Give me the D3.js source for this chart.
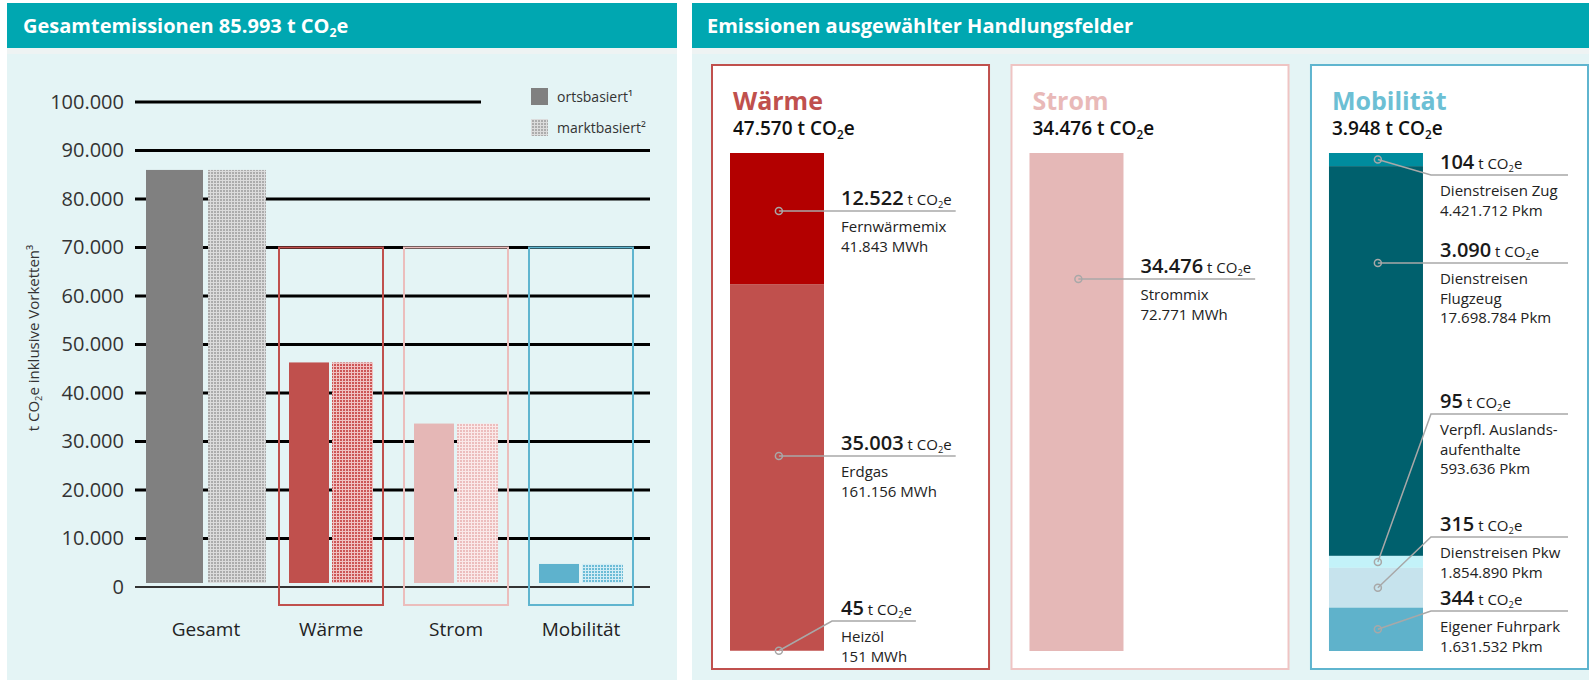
<!DOCTYPE html>
<html>
<head>
<meta charset="utf-8">
<script src="https://cdn.jsdelivr.net/npm/d3@7"></script>
<style>
body { margin: 0; background: #fff; }
svg { display: block; font-family: "Open Sans", sans-serif; }
</style>
</head>
<body>
<script>
// ---- left chart: Gesamtemissionen ----
var categories = ["Gesamt", "Wärme", "Strom", "Mobilität"];
var ortsbasiert = [85993, 46300, 33700, 4750];
var marktbasiert = [85993, 46300, 33700, 4750];
var yTicks = [0, 10000, 20000, 30000, 40000, 50000, 60000, 70000, 80000, 90000, 100000];
var gesamtTotal = 85993;
var boxTop = 70000;

// ---- right panel: Handlungsfelder ----
var fieldNames = ["Wärme", "Strom", "Mobilität"];
var fieldTotals = [47570, 34476, 3948];

var waermeNames = [["Fernwärmemix"], ["Erdgas"], ["Heizöl"]];
var waermeValues = [12522, 35003, 45];
var waermeUsage = ["41.843 MWh", "161.156 MWh", "151 MWh"];

var stromNames = [["Strommix"]];
var stromValues = [34476];
var stromUsage = ["72.771 MWh"];

var mobNames = [["Dienstreisen Zug"], ["Dienstreisen", "Flugzeug"], ["Verpfl. Auslands-", "aufenthalte"], ["Dienstreisen Pkw"], ["Eigener Fuhrpark"]];
var mobValues = [104, 3090, 95, 315, 344];
var mobUsage = ["4.421.712 Pkm", "17.698.784 Pkm", "593.636 Pkm", "1.854.890 Pkm", "1.631.532 Pkm"];

// colours + layout
var teal = "#00a7b1", panelBg = "#e4f4f5";
var ortsColors = ["#808080", "#c0504d", "#e5b7b6", "#5eb2cd"];
var hatchColors = [["#acacac", "#dcdcdc"], ["#cc5656", "#f0c2c2"], ["#ecbdbd", "#fae9e9"], ["#6cbcd6", "#d3edf5"]];
var boxColors = [null, "#c0504d", "#ebbdbc", "#5fb5cf"];
var titleColors = ["#c0504d", "#e9b9b8", "#6cbfd4"];
var segColors = [["#b30000", "#c0504d", "#c0504d"], ["#e5b8b7"], ["#008c9e", "#00606d", "#c3f2f9", "#c6e3ed", "#5fb2cb"]];
var annotY = [[211, 456, 621], [279], [175, 263, 414, 537, 611]];

var fmt = d3.formatLocale({decimal: ",", thousands: ".", grouping: [3], currency: ["", "€"]}).format(",");

var svg = d3.select("body").append("svg")
    .attr("width", 1589)
    .attr("height", 680);

var defs = svg.append("defs");
function hatch(id, cell, line) {
    var p = defs.append("pattern").attr("id", id)
        .attr("width", 3).attr("height", 3)
        .attr("patternUnits", "userSpaceOnUse");
    p.append("rect").attr("width", 3).attr("height", 3).attr("fill", line);
    p.append("rect").attr("x", 1).attr("y", 1).attr("width", 2).attr("height", 2).attr("fill", cell);
}
hatchColors.forEach(function(c, i) { hatch("hatch" + i, c[0], c[1]); });

// CO2e with subscript 2
function co2(text, pre, fs, post) {
    text.append("tspan").attr("font-size", fs).text(pre + "CO");
    text.append("tspan").attr("font-size", fs * 0.62).attr("dy", fs * 0.22).text("2");
    text.append("tspan").attr("font-size", fs).attr("dy", -fs * 0.22).text("e" + (post || ""));
}

// panels
function panel(x, w) {
    svg.append("rect").attr("x", x).attr("y", 3).attr("width", w).attr("height", 45).attr("fill", teal);
    svg.append("rect").attr("x", x).attr("y", 48).attr("width", w).attr("height", 6).attr("fill", "#eef3f3");
    svg.append("rect").attr("x", x).attr("y", 54).attr("width", w).attr("height", 626).attr("fill", panelBg);
}
panel(7, 670);
panel(692, 897);

var t1 = svg.append("text").attr("x", 23).attr("y", 33)
    .attr("fill", "#fff").attr("font-weight", 700);
co2(t1, "Gesamtemissionen " + fmt(gesamtTotal) + " t ", 20);

svg.append("text").attr("x", 707).attr("y", 33)
    .attr("fill", "#fff").attr("font-weight", 700).attr("font-size", 20)
    .text("Emissionen ausgewählter Handlungsfelder");

// ================= LEFT CHART =================
var y = d3.scaleLinear().domain([0, 100000]).range([587, 102]);
var x = d3.scaleBand().domain(categories).range([143.5, 643.5]);

var g = svg.append("g");

// gridlines
g.selectAll(".grid")
    .data(yTicks)
    .enter().append("line")
    .attr("x1", 135)
    .attr("x2", function(d) { return d === 100000 ? 481 : 650; })
    .attr("y1", function(d) { return y(d); })
    .attr("y2", function(d) { return y(d); })
    .attr("stroke", function(d) { return d === 0 ? "#333" : "#000"; })
    .attr("stroke-width", function(d) { return d === 0 ? 2 : 3; });

// y axis labels
var ax = g.append("g")
    .attr("transform", "translate(135,0)")
    .call(d3.axisLeft(y).tickValues(yTicks).tickSize(0).tickPadding(11).tickFormat(fmt));
ax.select(".domain").remove();
ax.selectAll("text")
    .attr("font-family", "Open Sans")
    .attr("font-size", 20)
    .attr("fill", "#333");

var yt = svg.append("text")
    .attr("transform", "translate(39,338) rotate(-90)")
    .attr("text-anchor", "middle")
    .attr("fill", "#333");
co2(yt, "t ", 15, " inklusive Vorketten³");

function barW(i) { return i === 0 ? 57 : 40; }
function cx(d) { return x(d) + x.bandwidth() / 2; }

// ortsbasiert bars
g.selectAll(".orts")
    .data(categories)
    .enter().append("rect")
    .attr("x", function(d, i) { return cx(d) - barW(i) - (i === 0 ? 3 : 2); })
    .attr("y", function(d, i) { return y(ortsbasiert[i]); })
    .attr("width", function(d, i) { return barW(i); })
    .attr("height", function(d, i) { return y(0) - y(ortsbasiert[i]) - 4; })
    .attr("fill", function(d, i) { return ortsColors[i]; });

// marktbasiert bars (hatched)
g.selectAll(".markt")
    .data(categories)
    .enter().append("rect")
    .attr("x", function(d, i) { return cx(d) + (i === 0 ? 2 : 1); })
    .attr("y", function(d, i) { return y(marktbasiert[i]); })
    .attr("width", function(d, i) { return barW(i) + 1; })
    .attr("height", function(d, i) { return y(0) - y(marktbasiert[i]) - 4; })
    .attr("fill", function(d, i) { return "url(#hatch" + i + ")"; });

// outline boxes around the Handlungsfelder
g.selectAll(".box")
    .data(categories.slice(1))
    .enter().append("rect")
    .attr("x", function(d) { return cx(d) - 52; })
    .attr("y", y(boxTop))
    .attr("width", 104)
    .attr("height", 605 - y(boxTop))
    .attr("fill", "none")
    .attr("stroke", function(d, i) { return boxColors[i + 1]; })
    .attr("stroke-width", 2);

// category labels
g.selectAll(".cat")
    .data(categories)
    .enter().append("text")
    .attr("x", function(d) { return cx(d); })
    .attr("y", 636)
    .attr("text-anchor", "middle")
    .attr("font-size", 19)
    .attr("fill", "#222")
    .text(function(d) { return d; });

// legend
var legend = [["ortsbasiert¹", ortsColors[0]], ["marktbasiert²", "url(#hatch0)"]];
var lg = svg.selectAll(".lg").data(legend).enter().append("g")
    .attr("transform", function(d, i) { return "translate(531," + (88 + i * 31) + ")"; });
lg.append("rect").attr("width", 17).attr("height", 17)
    .attr("fill", function(d) { return d[1]; });
lg.append("text").attr("x", 26).attr("y", 14)
    .attr("font-size", 14).attr("fill", "#333")
    .text(function(d) { return d[0]; });

// ================= RIGHT CARDS =================
var cardX = d3.scaleBand().domain(fieldNames).range([712, 1588]).paddingInner(0.075);
var cardW = cardX.bandwidth();
var fields = [
    {names: waermeNames, values: waermeValues, usage: waermeUsage},
    {names: stromNames, values: stromValues, usage: stromUsage},
    {names: mobNames, values: mobValues, usage: mobUsage}
];
var barTop = 153, barBottom = 651, sBarW = 94;

fieldNames.forEach(function(name, c) {
    var x0 = cardX(name);
    var card = svg.append("g");
    card.append("rect")
        .attr("x", x0).attr("y", 65)
        .attr("width", cardW).attr("height", 604)
        .attr("fill", "#fff")
        .attr("stroke", boxColors[c + 1] === "#ebbdbc" ? "#efc4c3" : boxColors[c + 1])
        .attr("stroke-width", 2);

    card.append("text")
        .attr("x", x0 + 21).attr("y", 110)
        .attr("font-size", 25).attr("font-weight", 700)
        .attr("fill", titleColors[c])
        .text(name);
    var tt = card.append("text").attr("x", x0 + 21).attr("y", 135)
        .attr("fill", "#111").attr("font-weight", 600);
    co2(tt, fmt(fieldTotals[c]) + " t ", 19);

    var f = fields[c];
    var bx = x0 + 18;
    var ys = d3.scaleLinear().domain([0, d3.sum(f.values)]).range([barTop, barBottom]);
    var cum = [0];
    f.values.forEach(function(v, i) { cum.push(cum[i] + v); });

    card.selectAll(".seg")
        .data(f.values)
        .enter().append("rect")
        .attr("x", bx)
        .attr("y", function(d, i) { return ys(cum[i]); })
        .attr("width", sBarW)
        .attr("height", function(d, i) { return ys(cum[i + 1]) - ys(cum[i]); })
        .attr("fill", function(d, i) { return segColors[c][i]; });

    var lx = bx + sBarW + 17;
    f.values.forEach(function(v, i) {
        var ly = annotY[c][i];
        var s0 = ys(cum[i]), s1 = ys(cum[i + 1]);
        var dotY = (ly >= s0 + 8 && ly <= s1 - 8) ? ly : (s0 + s1) / 2;
        var dotX = bx + sBarW * 0.52;

        var vt = card.append("text").attr("x", lx).attr("y", ly - 6).attr("fill", "#1a1a1a");
        vt.append("tspan").attr("font-size", 20).attr("font-weight", 600).text(fmt(v));
        co2(vt, " t ", 15);
        var textEnd = lx + vt.node().getComputedTextLength();
        var lineEnd = c === 2 ? x0 + cardW - 20 : textEnd + 4;

        var pts = dotY === ly ? [[dotX, ly], [lineEnd, ly]] : [[dotX, dotY], [lx - 9, ly], [lineEnd, ly]];
        card.append("path")
            .attr("d", d3.line()(pts))
            .attr("fill", "none")
            .attr("stroke", "#a8a8a8")
            .attr("stroke-width", 1.5);
        card.append("circle")
            .attr("cx", dotX).attr("cy", dotY).attr("r", 3.5)
            .attr("fill", "none")
            .attr("stroke", "#a8a8a8")
            .attr("stroke-width", 1.5);

        var lines = f.names[i].concat([f.usage[i]]);
        card.selectAll(null)
            .data(lines)
            .enter().append("text")
            .attr("x", lx)
            .attr("y", function(d, k) { return ly + 21 + k * 19.5; })
            .attr("font-size", 15)
            .attr("fill", "#222")
            .text(function(d) { return d; });
    });
});
</script>
</body>
</html>
